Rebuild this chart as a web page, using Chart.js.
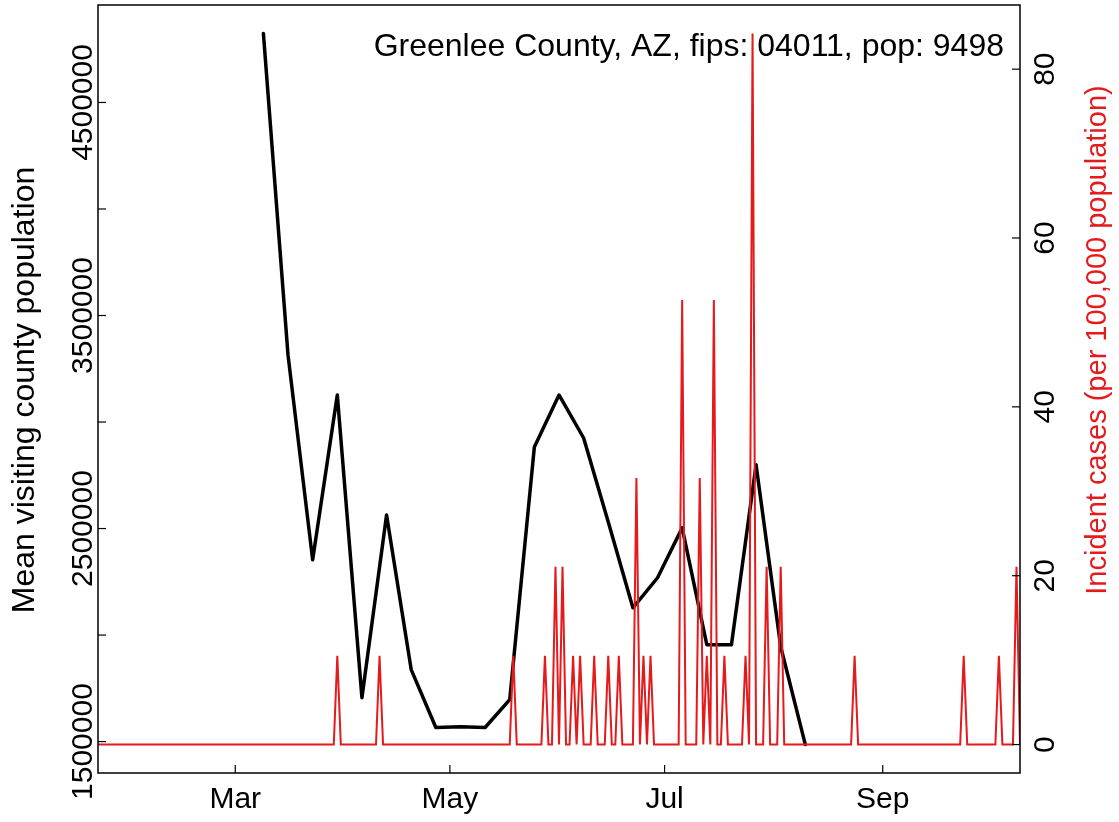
<!DOCTYPE html>
<html>
<head>
<meta charset="utf-8">
<script src="https://cdn.jsdelivr.net/npm/chart.js@4/dist/chart.umd.min.js"></script>
<style>
html, body { margin: 0; padding: 0; background: #fff; }
#wrap { width: 1119px; height: 822px; }
</style>
</head>
<body>
<div id="wrap"><canvas id="chart" width="1119" height="822"></canvas></div>
<script>
const population = 9498;
const titleText = 'Greenlee County, AZ, fips: 04011, pop: 9498';

// days are counted from Jan 1 2020 (= 0)
const visitDays = [68, 75, 82, 89, 96, 103, 110, 117, 124, 131, 138, 145, 152, 159, 166, 173, 180, 187, 194, 201, 208, 215, 222];
const visitMeans = [4824000, 3314000, 2353000, 3127000, 1706000, 2564000, 1838000, 1566000, 1570000, 1566000, 1697000,
    2883000, 3127000, 2925000, 2531000, 2128000, 2269000, 2503000, 1955000, 1955000, 2799000, 1945000, 1486000];

// days with reported cases, all other days have 0
const caseDays = [89, 101, 139, 148, 151, 153, 156, 158, 162, 166, 169, 174, 176, 178, 187, 192, 194, 196, 199, 205, 207, 211, 215, 236, 267, 277, 282];
const caseCounts = [1, 1, 1, 1, 2, 2, 1, 1, 1, 1, 1, 3, 1, 1, 5, 3, 1, 5, 1, 1, 8, 2, 2, 1, 1, 1, 2];
const firstDay = 21, lastDay = 283;

const monthTicks = [60, 121, 182, 244];
const monthLabels = ['Mar', 'May', 'Jul', 'Sep'];
const leftTicks = [1500000, 2000000, 2500000, 3000000, 3500000, 4000000, 4500000];
const leftLabels = ['1500000', '', '2500000', '', '3500000', '', '4500000'];
const rightTicks = [0, 20, 40, 60, 80];

const RED = 'rgb(228,26,28)';

const visitData = visitDays.map((d, i) => ({x: d, y: visitMeans[i]}));
const caseData = [];
for (let d = firstDay; d <= lastDay; d++) {
    const k = caseDays.indexOf(d);
    const n = k >= 0 ? caseCounts[k] : 0;
    caseData.push({x: d, y: n * 100000 / population});
}

// R style axis limits (4% padding)
function padRange(vals) {
    const lo = Math.min(...vals), hi = Math.max(...vals);
    const p = (hi - lo) * 0.04;
    return [lo - p, hi + p];
}
const leftRange = padRange(visitMeans);
const rightRange = padRange(caseData.map(p => p.y));

const font = 'Liberation Sans, Arial, sans-serif';

const rAxes = {
    id: 'rAxes',
    afterDraw(chart) {
        const ctx = chart.ctx;
        const a = chart.chartArea;
        const xs = chart.scales.x, yl = chart.scales.y, yr = chart.scales.y2;
        ctx.save();
        ctx.strokeStyle = '#000';
        ctx.lineWidth = 1.5;
        ctx.strokeRect(a.left, a.top, a.right - a.left, a.bottom - a.top);
        ctx.lineWidth = 1.2;
        ctx.fillStyle = '#000';
        ctx.font = '30px ' + font;

        // x axis
        ctx.textAlign = 'center';
        ctx.textBaseline = 'middle';
        monthTicks.forEach((t, i) => {
            const px = xs.getPixelForValue(t);
            ctx.beginPath();
            ctx.moveTo(px, a.bottom);
            ctx.lineTo(px, a.bottom - 8);
            ctx.stroke();
            ctx.fillText(monthLabels[i], px, 800);
        });

        // left axis
        leftTicks.forEach((t, i) => {
            const py = yl.getPixelForValue(t);
            ctx.beginPath();
            ctx.moveTo(a.left, py);
            ctx.lineTo(a.left + 8, py);
            ctx.stroke();
            if (leftLabels[i]) {
                ctx.save();
                ctx.translate(84, py);
                ctx.rotate(-Math.PI / 2);
                ctx.fillText(leftLabels[i], 0, 0);
                ctx.restore();
            }
        });

        // right axis
        rightTicks.forEach(t => {
            const py = yr.getPixelForValue(t);
            ctx.beginPath();
            ctx.moveTo(a.right, py);
            ctx.lineTo(a.right - 8, py);
            ctx.stroke();
            ctx.save();
            ctx.translate(1046, py);
            ctx.rotate(-Math.PI / 2);
            ctx.fillText(String(t), 0, 0);
            ctx.restore();
        });

        // axis titles
        ctx.font = '32px ' + font;
        ctx.save();
        ctx.translate(25, 390);
        ctx.rotate(-Math.PI / 2);
        ctx.fillText('Mean visiting county population', 0, 0);
        ctx.restore();

        ctx.font = '29px ' + font;
        ctx.fillStyle = RED;
        ctx.save();
        ctx.translate(1098, 340);
        ctx.rotate(-Math.PI / 2);
        ctx.fillText('Incident cases (per 100,000 population)', 0, 0);
        ctx.restore();

        // county label
        ctx.fillStyle = '#000';
        ctx.font = '32px ' + font;
        ctx.textAlign = 'right';
        ctx.fillText(titleText, 1004, 47);
        ctx.restore();
    }
};

new Chart(document.getElementById('chart'), {
    type: 'line',
    data: {
        datasets: [{
            label: 'Incident cases',
            data: caseData,
            yAxisID: 'y2',
            borderColor: RED,
            borderWidth: 2,
            pointRadius: 0,
            tension: 0,
            order: 0
        }, {
            label: 'Mean visiting county population',
            data: visitData,
            yAxisID: 'y',
            borderColor: '#000',
            borderWidth: 3.5,
            borderJoinStyle: 'round',
            borderCapStyle: 'round',
            pointRadius: 0,
            tension: 0,
            order: 1
        }]
    },
    options: {
        responsive: false,
        animation: false,
        parsing: false,
        layout: { padding: { left: 98, right: 99, top: 5, bottom: 49 } },
        plugins: { legend: { display: false }, tooltip: { enabled: false } },
        scales: {
            x: { type: 'linear', display: false, min: firstDay, max: lastDay },
            y: { type: 'linear', display: false, min: leftRange[0], max: leftRange[1] },
            y2: { type: 'linear', display: false, position: 'right', min: rightRange[0], max: rightRange[1] }
        }
    },
    plugins: [rAxes]
});
</script>
</body>
</html>
